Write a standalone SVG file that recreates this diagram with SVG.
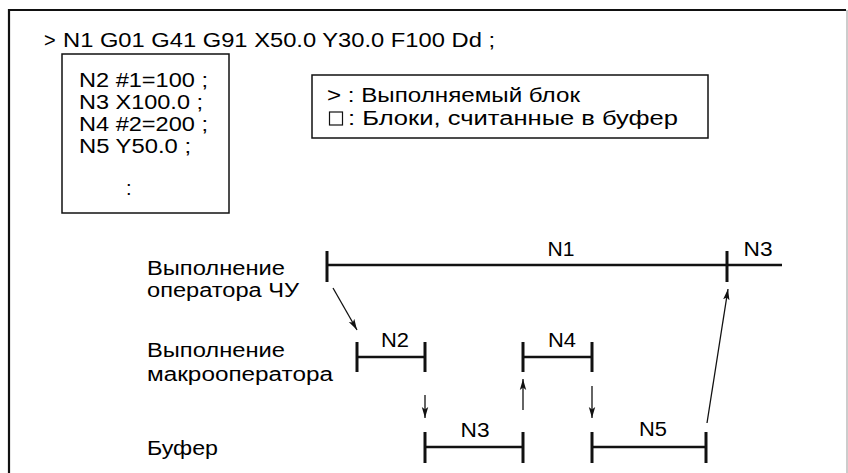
<svg xmlns="http://www.w3.org/2000/svg" width="848" height="473" viewBox="0 0 848 473">
<defs>
<style>
text{font-family:"Liberation Sans",Arial,sans-serif;font-size:20px;fill:#000;}
.lbl{text-anchor:middle;}
.box{fill:none;stroke:#111;stroke-width:1.5;}
.seg{stroke:#111;stroke-width:2.4;fill:none;}
.tick{stroke:#111;stroke-width:3;fill:none;}
.arr{stroke:#111;stroke-width:1.3;fill:none;marker-end:url(#ah);}
</style>
<marker id="ah" markerUnits="userSpaceOnUse" markerWidth="12" markerHeight="8" refX="11" refY="4" orient="auto">
<path d="M0,0.8 L11,4 L0,7.2 L2.5,4 z" fill="#111"/>
</marker>
</defs>
<rect width="848" height="473" fill="#fff"/>
<g id="frame">
<path d="M9,480 V10 H846" fill="none" stroke="#111" stroke-width="2.2"/>
<line x1="847" y1="10" x2="847" y2="480" stroke="#999" stroke-width="1"/>
</g>
<g id="header">
<text x="44" y="47">&gt;</text>
<text x="63" y="47" textLength="432" lengthAdjust="spacingAndGlyphs">N1 G01 G41 G91 X50.0 Y30.0 F100 Dd ;</text>
</g>
<g id="buffer-blocks">
<rect class="box" x="62" y="54" width="167" height="159"/>
<text x="79" y="87" textLength="129" lengthAdjust="spacingAndGlyphs">N2 #1=100 ;</text>
<text x="79" y="109" textLength="124" lengthAdjust="spacingAndGlyphs">N3 X100.0 ;</text>
<text x="79" y="131" textLength="129" lengthAdjust="spacingAndGlyphs">N4 #2=200 ;</text>
<text x="79" y="153" textLength="112" lengthAdjust="spacingAndGlyphs">N5 Y50.0 ;</text>
<text x="126" y="195">:</text>
</g>
<g id="legend">
<rect class="box" x="312" y="75" width="396" height="63"/>
<text x="327" y="102" textLength="253" lengthAdjust="spacingAndGlyphs">&gt; : Выполняемый блок</text>
<rect x="329.5" y="112" width="13" height="13" fill="none" stroke="#111" stroke-width="1.2"/>
<text x="348" y="125" textLength="330" lengthAdjust="spacingAndGlyphs">: Блоки, считанные в буфер</text>
</g>
<g id="row-labels">
<text x="147" y="275" textLength="138" lengthAdjust="spacingAndGlyphs">Выполнение</text>
<text x="147" y="297" textLength="152" lengthAdjust="spacingAndGlyphs">оператора ЧУ</text>
<text x="147" y="357" textLength="138" lengthAdjust="spacingAndGlyphs">Выполнение</text>
<text x="147" y="381" textLength="186" lengthAdjust="spacingAndGlyphs">макрооператора</text>
<text x="147" y="455" textLength="71" lengthAdjust="spacingAndGlyphs">Буфер</text>
</g>
<g id="seg-N1">
<line class="seg" x1="327" y1="265" x2="782" y2="265"/>
<line class="tick" x1="327" y1="251" x2="327" y2="282"/>
<line class="tick" x1="727" y1="251" x2="727" y2="282"/>
<text class="lbl" x="561" y="256" textLength="27" lengthAdjust="spacingAndGlyphs">N1</text>
<text class="lbl" x="758" y="256" textLength="29" lengthAdjust="spacingAndGlyphs">N3</text>
</g>
<g id="seg-N2">
<line class="seg" x1="357" y1="357" x2="425" y2="357"/>
<line class="tick" x1="357" y1="342" x2="357" y2="372"/>
<line class="tick" x1="425" y1="342" x2="425" y2="372"/>
<text class="lbl" x="395" y="347" textLength="28" lengthAdjust="spacingAndGlyphs">N2</text>
</g>
<g id="seg-N4">
<line class="seg" x1="523" y1="357" x2="592" y2="357"/>
<line class="tick" x1="523" y1="342" x2="523" y2="372"/>
<line class="tick" x1="592" y1="342" x2="592" y2="372"/>
<text class="lbl" x="562" y="347" textLength="28" lengthAdjust="spacingAndGlyphs">N4</text>
</g>
<g id="seg-N3-buf">
<line class="seg" x1="425" y1="447" x2="523" y2="447"/>
<line class="tick" x1="425" y1="432" x2="425" y2="463"/>
<line class="tick" x1="523" y1="432" x2="523" y2="463"/>
<text class="lbl" x="475" y="437" textLength="29" lengthAdjust="spacingAndGlyphs">N3</text>
</g>
<g id="seg-N5-buf">
<line class="seg" x1="592" y1="447" x2="706" y2="447"/>
<line class="tick" x1="592" y1="432" x2="592" y2="463"/>
<line class="tick" x1="706" y1="432" x2="706" y2="463"/>
<text class="lbl" x="653" y="436" textLength="28" lengthAdjust="spacingAndGlyphs">N5</text>
</g>
<g id="connectors">
<line class="arr" x1="333" y1="288" x2="357" y2="330"/>
<line class="arr" x1="425" y1="395" x2="425" y2="418"/>
<line class="arr" x1="523" y1="410" x2="523" y2="379"/>
<line class="arr" x1="592" y1="386" x2="592" y2="418"/>
<line class="arr" x1="707" y1="423" x2="728" y2="289"/>
</g>
</svg>
